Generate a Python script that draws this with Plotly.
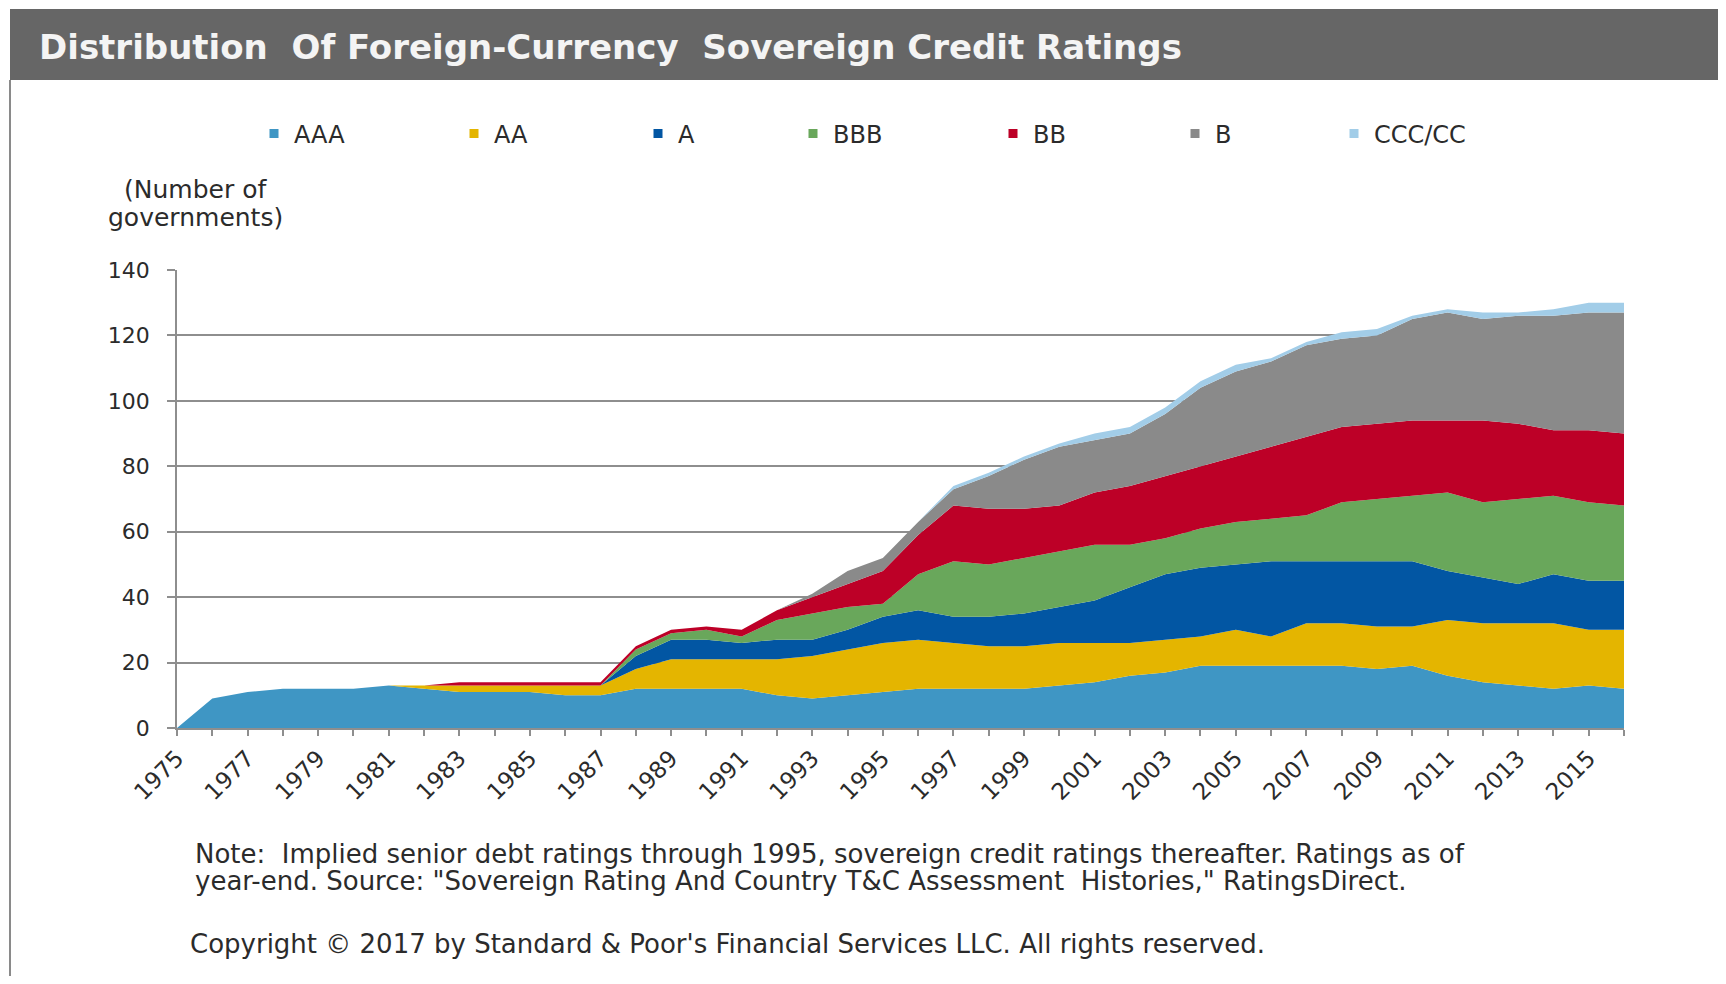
import plotly.graph_objects as go

years = list(range(1975, 2017))
aaa = [0, 9, 11, 12, 12, 12, 13, 12, 11, 11, 11, 10, 10, 12, 12, 12, 12, 10, 9, 10, 11,
       12, 12, 12, 12, 13, 14, 16, 17, 19, 19, 19, 19, 19, 18, 19, 16, 14, 13, 12, 13, 12]
aa = [0, 0, 0, 0, 0, 0, 0, 1, 2, 2, 2, 3, 3, 6, 9, 9, 9, 11, 13, 14, 15,
      15, 14, 13, 13, 13, 12, 10, 10, 9, 11, 9, 13, 13, 13, 12, 17, 18, 19, 20, 17, 18]
a = [0, 0, 0, 0, 0, 0, 0, 0, 0, 0, 0, 0, 0, 4, 6, 6, 5, 6, 5, 6, 8,
     9, 8, 9, 10, 11, 13, 17, 20, 21, 20, 23, 19, 19, 20, 20, 15, 14, 12, 15, 15, 15]
bbb = [0, 0, 0, 0, 0, 0, 0, 0, 0, 0, 0, 0, 0, 2, 2, 3, 2, 6, 8, 7, 4,
       11, 17, 16, 17, 17, 17, 13, 11, 12, 13, 13, 14, 18, 19, 20, 24, 23, 26, 24, 24, 23]
bb = [0, 0, 0, 0, 0, 0, 0, 0, 1, 1, 1, 1, 1, 1, 1, 1, 2, 3, 5, 7, 10,
      12, 17, 17, 15, 14, 16, 18, 19, 19, 20, 22, 24, 23, 23, 23, 22, 25, 23, 20, 22, 22]
b = [0, 0, 0, 0, 0, 0, 0, 0, 0, 0, 0, 0, 0, 0, 0, 0, 0, 0, 1, 4, 4,
     4, 5, 10, 15, 18, 16, 16, 19, 24, 26, 26, 28, 27, 27, 31, 33, 31, 33, 35, 36, 37]
ccc = [0, 0, 0, 0, 0, 0, 0, 0, 0, 0, 0, 0, 0, 0, 0, 0, 0, 0, 0, 0, 0,
       0, 1, 1, 1, 1, 2, 2, 2, 2, 2, 1, 1, 2, 2, 1, 1, 2, 1, 2, 3, 3]

series_names = ["AAA", "AA", "A", "BBB", "BB", "B", "CCC/CC"]
series_values = [aaa, aa, a, bbb, bb, b, ccc]
series_colors = ["#3f96c4", "#e4b500", "#0256a3", "#69a75b", "#bd0027", "#8a8a8a", "#a2cde8"]
legend_widths = [200, 184, 155, 200, 182, 159, 150]

tick_labels = [str(y) if (y - 1975) % 2 == 0 else "" for y in years]

FONT = "DejaVu Sans"
TXT = "#2b2b2b"
GRID = "#8e8e8e"

fig = go.Figure()
for name, vals, col in zip(series_names, series_values, series_colors):
    fig.add_trace(go.Scatter(
        x=years, y=vals, name=name, mode="lines", stackgroup="one",
        line=dict(width=0, color=col), fillcolor=col, showlegend=False,
        hovertemplate=name + " %{x}: %{y}<extra></extra>"))

for name, col, w in zip(series_names, series_colors, legend_widths):
    fig.add_trace(go.Scatter(
        x=[None], y=[None], name=name, mode="markers",
        marker=dict(symbol="square", size=9, color=col),
        showlegend=True, legendwidth=w - 45))

# page has an 8px body margin; figure coordinates below are page coords - 8
W, H = 1718, 968
L, T = 169, 262
R = W - 1616
B = H - 720
pw = W - L - R
ph = H - T - B


def px(x):
    return (x - L) / pw


def py(y):
    return (H - B - y) / ph


fig.update_layout(
    width=W, height=H,
    margin=dict(l=L, r=R, t=T, b=B, pad=0),
    paper_bgcolor="white", plot_bgcolor="white",
    font=dict(family=FONT, size=22, color=TXT),
    title=dict(text="Distribution\u00a0 Of Foreign-Currency\u00a0 Sovereign Credit Ratings",
               xref="container", yref="container", x=31 / W, y=1 - 39 / H,
               xanchor="left", yanchor="middle",
               font=dict(family=FONT, size=34, color="#f4f4f4", weight="bold")),
    legend=dict(orientation="h", x=px(246), y=py(126), xanchor="left", yanchor="middle",
                font=dict(family=FONT, size=24, color=TXT), itemwidth=30,
                bgcolor="rgba(0,0,0,0)", traceorder="normal"),
    xaxis=dict(range=[1975, 2016], tickmode="array", tickvals=years, ticktext=tick_labels,
               tickangle=-45, ticks="outside", ticklen=6, tickcolor=GRID, tickwidth=1.5,
               showline=True, linecolor=GRID, linewidth=1.5, showgrid=False, zeroline=False,
               tickfont=dict(family=FONT, size=23, color=TXT)),
    yaxis=dict(range=[0, 140], dtick=20, ticks="outside", ticklen=8, tickcolor=GRID,
               tickwidth=1.5, showline=True, linecolor=GRID, linewidth=1.5,
               showgrid=True, gridcolor=GRID, gridwidth=1.5, zeroline=False,
               ticklabelstandoff=13, tickfont=dict(family=FONT, size=22, color=TXT)),
    shapes=[
        dict(type="rect", xref="paper", yref="paper", x0=px(2), x1=px(W + 5),
             y0=py(72), y1=py(1), fillcolor="#666666", line=dict(width=0), layer="below"),
        dict(type="line", xref="paper", yref="paper", x0=px(2), x1=px(2),
             y0=py(72), y1=py(H + 5), line=dict(color="#8a8a8a", width=2), layer="below"),
    ],
    annotations=[
        dict(text="(Number of", xref="paper", yref="paper",
             x=px(187), y=py(181), xanchor="center", yanchor="middle",
             showarrow=False, font=dict(family=FONT, size=25, color=TXT)),
        dict(text="governments)", xref="paper", yref="paper",
             x=px(187), y=py(210), xanchor="center", yanchor="middle",
             showarrow=False, font=dict(family=FONT, size=25, color=TXT)),
        dict(text="Note:\u00a0 Implied senior debt ratings through 1995, sovereign credit ratings thereafter. Ratings as of",
             xref="paper", yref="paper", x=px(185), y=py(846), xanchor="left", yanchor="middle",
             showarrow=False, font=dict(family=FONT, size=26, color=TXT)),
        dict(text="year-end. Source: \"Sovereign Rating And Country T&amp;C Assessment\u00a0 Histories,\" RatingsDirect.",
             xref="paper", yref="paper", x=px(185), y=py(873), xanchor="left", yanchor="middle",
             showarrow=False, font=dict(family=FONT, size=26, color=TXT)),
        dict(text="Copyright \u00a9 2017 by Standard &amp; Poor's Financial Services LLC. All rights reserved.",
             xref="paper", yref="paper", x=px(180), y=py(936), xanchor="left", yanchor="middle",
             showarrow=False, font=dict(family=FONT, size=26, color=TXT)),
    ],
)

fig.write_html("out.html")
